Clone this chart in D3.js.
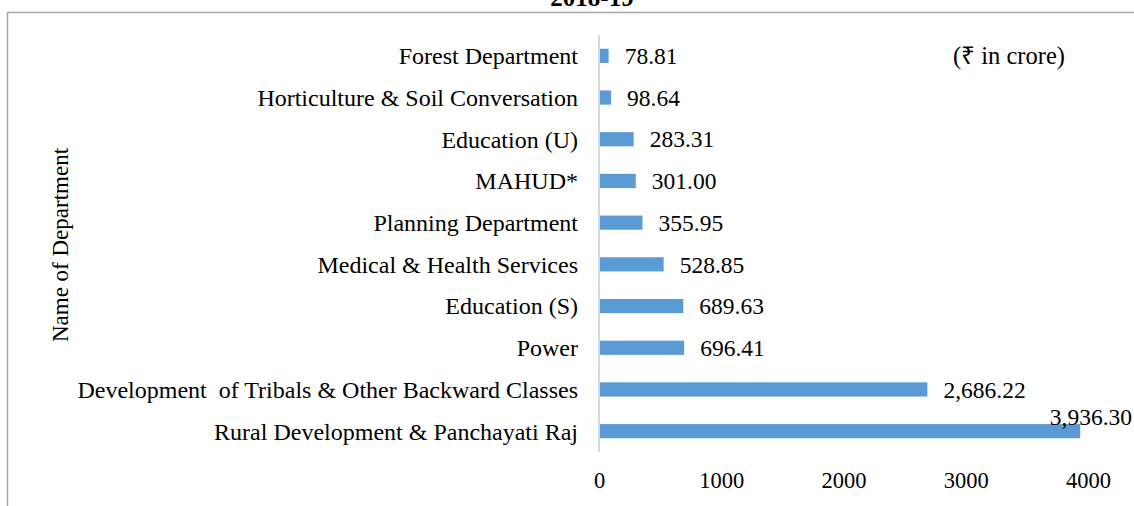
<!DOCTYPE html>
<html>
<head>
<meta charset="utf-8">
<script src="https://cdn.jsdelivr.net/npm/d3@7"></script>
<style>
body { margin: 0; background: #fff; }
text { font-family: "Liberation Serif", "Times New Roman", serif; fill: #000; white-space: pre; }
</style>
</head>
<body>
<script>
const departments = ["Forest Department", "Horticulture & Soil Conversation", "Education (U)", "MAHUD*",
  "Planning Department", "Medical & Health Services", "Education (S)", "Power",
  "Development  of Tribals & Other Backward Classes", "Rural Development & Panchayati Raj"];
const amounts = [78.81, 98.64, 283.31, 301.00, 355.95, 528.85, 689.63, 696.41, 2686.22, 3936.30];
const xTicks = [0, 1000, 2000, 3000, 4000];

const width = 1134, height = 506;
const margin = {left: 599, right: 46, top: 35, bottom: 54};

var svg = d3.select("body").append("svg")
  .attr("width", width)
  .attr("height", height);

// outer frame (partly cut off)
svg.append("path")
  .attr("d", "M7.5,506 V12.5 H1134")
  .attr("fill", "none")
  .attr("stroke", "#a6a6a6")
  .attr("stroke-width", 1.5);

// title, cut off at the top like the source
svg.append("text")
  .attr("x", 592).attr("y", 6)
  .attr("text-anchor", "middle")
  .attr("font-weight", "bold")
  .attr("font-size", 25)
  .text("2018-19");

var x = d3.scaleLinear()
  .domain([0, 4000])
  .range([margin.left, width - margin.right]);

var y = d3.scaleBand()
  .domain(departments)
  .range([margin.top, height - margin.bottom])
  .paddingInner(0.66)
  .paddingOuter(0.33);

var data = departments.map((d, i) => ({name: d, value: amounts[i]}));

// bars
svg.selectAll("rect.bar")
  .data(data)
  .enter().append("rect")
  .attr("class", "bar")
  .attr("x", x(0))
  .attr("y", d => y(d.name))
  .attr("width", d => x(d.value) - x(0))
  .attr("height", y.bandwidth())
  .attr("fill", "#5b9bd5");

// vertical axis line
svg.append("line")
  .attr("x1", x(0)).attr("x2", x(0))
  .attr("y1", margin.top).attr("y2", height - margin.bottom)
  .attr("stroke", "#d9d9d9")
  .attr("stroke-width", 2);

// category labels
svg.selectAll("text.cat")
  .data(departments)
  .enter().append("text")
  .attr("class", "cat")
  .attr("x", 578)
  .attr("y", d => y(d) + y.bandwidth() / 2)
  .attr("dy", "0.35em")
  .attr("text-anchor", "end")
  .attr("font-size", 24)
  .text(d => d);

// value labels
var fmt = d3.format(",.2f");
svg.selectAll("text.val")
  .data(data)
  .enter().append("text")
  .attr("class", "val")
  .attr("x", d => d.value > 3900 ? width - 2 : x(d.value) + 16)
  .attr("y", d => d.value > 3900 ? y(d.name) - 7 : y(d.name) + y.bandwidth() / 2)
  .attr("dy", "0.35em")
  .attr("text-anchor", d => d.value > 3900 ? "end" : "start")
  .attr("font-size", 23.5)
  .text(d => fmt(d.value));

// x tick labels
var xAxis = d3.axisBottom(x).tickValues(xTicks).tickSize(0).tickPadding(0).tickFormat(d3.format("d"));
var gx = svg.append("g")
  .attr("transform", "translate(0," + 480 + ")")
  .call(xAxis);
gx.select(".domain").remove();
gx.selectAll("text")
  .attr("font-size", 22.5)
  .attr("font-family", "Liberation Serif, serif")
  .attr("fill", "#000")
  .attr("y", 0)
  .attr("dy", "0.35em");

svg.append("text")
  .attr("transform", "translate(60,245) rotate(-90)")
  .attr("text-anchor", "middle")
  .attr("dy", "0.35em")
  .attr("font-size", 23)
  .text("Name of Department");

svg.append("text")
  .attr("x", 1009).attr("y", 55)
  .attr("dy", "0.35em")
  .attr("text-anchor", "middle")
  .attr("font-size", 24.5)
  .text("(₹ in crore)");
</script>
</body>
</html>
